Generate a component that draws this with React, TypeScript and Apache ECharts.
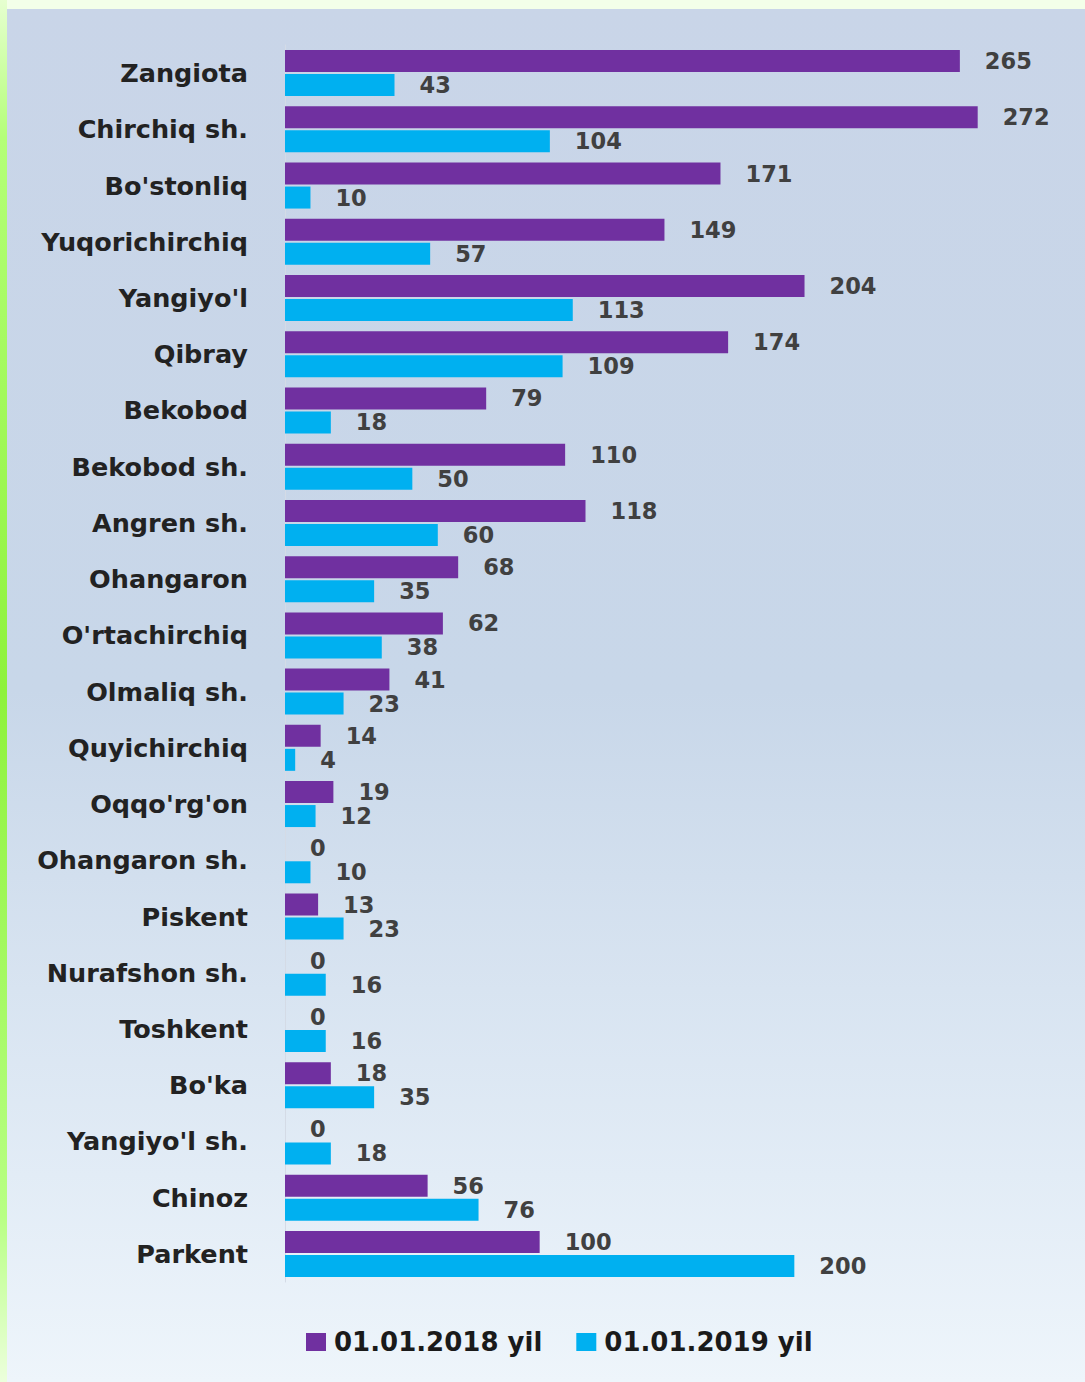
import React, { useEffect, useRef } from "react";
import * as echarts from "echarts";

const categories = [
  "Zangiota", "Chirchiq sh.", "Bo'stonliq", "Yuqorichirchiq", "Yangiyo'l", "Qibray",
  "Bekobod", "Bekobod sh.", "Angren sh.", "Ohangaron", "O'rtachirchiq", "Olmaliq sh.",
  "Quyichirchiq", "Oqqo'rg'on", "Ohangaron sh.", "Piskent", "Nurafshon sh.", "Toshkent",
  "Bo'ka", "Yangiyo'l sh.", "Chinoz", "Parkent",
];
const values2018 = [265, 272, 171, 149, 204, 174, 79, 110, 118, 68, 62, 41, 14, 19, 0, 13, 0, 0, 18, 0, 56, 100];
const values2019 = [43, 104, 10, 57, 113, 109, 18, 50, 60, 35, 38, 23, 4, 12, 10, 23, 16, 16, 35, 18, 76, 200];
const seriesNames = ["01.01.2018 yil", "01.01.2019 yil"];

export default function App() {
  const ref = useRef<HTMLDivElement>(null);
  useEffect(() => {
    if (!ref.current) return;
    const chart = echarts.init(ref.current, undefined, { renderer: "svg" });
    const labelStyle = {
      show: true,
      position: "right",
      distance: 25,
      color: "#404040",
      fontFamily: "DejaVu Sans",
      fontWeight: "bold",
      fontSize: 22.5,
    };
    chart.setOption({
      animation: false,
      backgroundColor: {
        type: "linear", x: 0, y: 0, x2: 0, y2: 1,
        colorStops: [
          { offset: 0, color: "#c9d5e8" },
          { offset: 0.5, color: "#c8d7e9" },
          { offset: 0.85, color: "#e2ecf6" },
          { offset: 1, color: "#eef5fb" },
        ],
      },
      graphic: [
        { type: "rect", shape: { x: 0, y: 0, width: 1085, height: 9 }, style: { fill: "#f3ffe9" }, silent: true },
        {
          type: "rect", shape: { x: 0, y: 0, width: 7, height: 1382 }, silent: true,
          style: {
            fill: {
              type: "linear", x: 0, y: 0, x2: 0, y2: 1,
              colorStops: [
                { offset: 0, color: "#e6ffd0" },
                { offset: 0.1, color: "#b4ff78" },
                { offset: 0.5, color: "#8ef23c" },
                { offset: 0.88, color: "#b8ff84" },
                { offset: 1, color: "#ecffdc" },
              ],
            },
          },
        },
      ],
      grid: { left: 285, top: 45, width: 764, height: 1237 },
      xAxis: {
        type: "value", min: 0, max: 300, show: false,
        splitLine: { show: false },
      },
      yAxis: {
        type: "category",
        data: categories,
        inverse: true,
        axisTick: { show: false },
        axisLine: { show: true, lineStyle: { color: "#d4dbe6", width: 1 } },
        axisLabel: {
          margin: 37,
          color: "#222222",
          fontFamily: "DejaVu Sans",
          fontWeight: "bold",
          fontSize: 25.5,
        },
      },
      legend: {
        data: seriesNames,
        left: 301,
        top: 1324,
        itemWidth: 20,
        itemHeight: 18,
        itemGap: 34,
        icon: "rect",
        textStyle: {
          color: "#1a1a1a",
          fontFamily: "DejaVu Sans",
          fontWeight: "bold",
          fontSize: 26,
          padding: [0, 0, 0, 3],
        },
      },
      series: [
        {
          name: seriesNames[0], type: "bar", data: values2018,
          barWidth: 22, barGap: "9%",
          itemStyle: { color: "#7030a0" },
          label: labelStyle,
        },
        {
          name: seriesNames[1], type: "bar", data: values2019,
          barWidth: 22, barGap: "9%",
          itemStyle: { color: "#00b0f0" },
          label: labelStyle,
        },
      ],
    });
    return () => chart.dispose();
  }, []);
  return (
    <div
      ref={ref}
      style={{ position: "absolute", left: 0, top: 0, width: 1085, height: 1382 }}
    />
  );
}
